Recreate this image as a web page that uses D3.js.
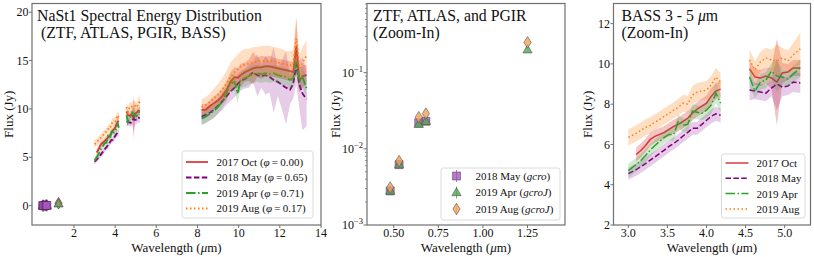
<!DOCTYPE html>
<html><head><meta charset="utf-8">
<script src="https://cdn.jsdelivr.net/npm/d3@7"></script>
<style>body{margin:0;background:#fff}svg{display:block}svg text{font-family:'Liberation Serif','DejaVu Serif','Times New Roman',Times,serif;fill:#111}</style>
</head><body><svg id="c" width="814" height="257" font-family="Liberation Serif, DejaVu Serif, serif"></svg>
<script>
// ---------------- DATA ----------------
const seriesNames = ["2017 Oct", "2018 May", "2019 Apr", "2019 Aug"];
const phases = ["0.00", "0.65", "0.71", "0.17"];

// BASS wavelength grids (micron)
const wl1 = [3.00,3.10,3.16,3.22,3.28,3.34,3.40,3.46,3.52,3.58,3.64,3.70,3.76,3.82,3.88,3.94,4.00,4.06,4.12,4.18];
const wl2 = [4.55,4.62,4.69,4.76,4.83,4.90,4.97,5.04,5.11,5.20];
const wl3 = [8.2,8.4,8.6,8.8,9.0,9.2,9.4,9.6,9.8,9.95,10.1,10.3,10.5,10.7,10.9,11.1,11.3,11.5,11.7,11.9,12.1,12.3,12.5,12.65,12.8,12.95,13.1,13.3];

// 2017 Oct flux (Jy) and uncertainty per segment
const octFlux = [
  [null,5.5,5.7,5.95,6.25,6.4,6.5,6.6,6.75,6.9,7.0,7.15,7.3,7.55,7.75,7.9,8.05,8.4,8.65,8.75],
  [9.75,9.35,9.3,9.4,9.3,9.1,9.55,9.6,9.8,9.8],
  [9.9,9.9,10.3,10.6,10.9,11.3,11.9,12.8,13.3,13.2,13.5,13.8,14.0,14.2,14.3,14.3,14.4,14.4,14.3,14.2,14.1,14.0,13.9,13.8,16.5,12.9,13.4,13.5]
];
const octErr = [
  [null,0.35,0.35,0.33,0.33,0.32,0.32,0.32,0.33,0.33,0.34,0.35,0.35,0.36,0.36,0.37,0.38,0.4,0.4,0.4],
  [0.45,0.4,0.4,0.4,0.5,2.15,0.5,0.4,0.4,0.4],
  [0.6,0.6,0.6,0.7,0.7,0.8,0.9,1.0,1.0,1.0,1.2,1.0,1.1,1.7,1.0,1.2,1.0,1.1,1.0,1.0,1.0,1.0,1.0,1.0,2.9,1.2,1.2,1.0]
];
// 2018 May
const mayFlux = [
  [4.55,4.75,4.9,5.05,5.22,5.38,5.55,5.72,5.9,6.05,6.22,6.42,6.6,6.8,6.8,7.0,7.2,7.4,7.52,7.45],
  [8.7,8.65,8.6,8.55,8.8,9.0,8.85,8.9,9.1,9.05],
  [9.2,9.4,9.6,9.9,10.3,10.8,11.3,11.8,12.2,12.6,12.9,13.1,13.4,13.8,13.5,13.4,13.5,13.3,13.0,12.8,12.5,12.2,12.0,12.6,14.6,12.5,11.6,11.0]
];
const mayErr = [
  [0.3,0.3,0.3,0.3,0.3,0.3,0.3,0.3,0.3,0.3,0.3,0.3,0.32,0.32,0.32,0.33,0.33,0.35,0.35,0.35],
  [0.5,0.4,0.4,0.4,0.4,1.3,0.45,0.45,0.5,0.5],
  [0.8,0.8,0.8,0.8,0.8,0.9,0.9,1.0,1.0,1.0,1.0,1.0,1.2,1.0,2.2,1.2,2.0,1.6,3.4,1.5,2.5,3.8,1.5,1.5,2.0,2.5,3.8,2.8]
];
// 2019 Apr
const aprFlux = [
  [4.7,5.0,5.2,5.45,5.72,5.95,6.15,6.35,6.5,6.5,7.15,6.95,7.0,7.65,7.6,7.55,7.7,7.95,8.55,8.05],
  [9.35,8.65,9.1,9.2,9.65,9.4,9.35,9.25,9.5,9.8],
  [9.0,9.2,9.5,9.8,10.2,10.8,11.6,12.6,12.8,11.6,13.0,13.2,13.4,13.6,13.7,13.6,13.7,13.6,13.7,13.5,13.4,13.3,13.0,13.2,14.9,12.8,13.3,12.1]
];
const aprErr = [
  [0.35,0.33,0.32,0.32,0.3,0.3,0.3,0.3,0.3,0.32,0.33,0.33,0.33,0.35,0.35,0.35,0.38,0.42,0.5,0.45],
  [0.5,0.35,0.4,0.4,0.4,0.8,0.4,0.4,0.4,0.45],
  [0.7,0.7,0.7,0.7,0.7,0.7,0.8,0.8,0.9,1.0,0.8,0.9,0.9,0.9,0.9,0.9,0.9,0.9,0.9,0.9,0.9,0.9,0.9,0.9,1.2,0.9,1.0,1.0]
];
// 2019 Aug
const augFlux = [
  [6.35,6.55,6.7,6.85,6.95,7.1,7.25,7.4,7.55,7.7,7.85,8.05,8.0,8.45,8.6,8.65,8.7,8.95,9.35,9.1],
  [10.2,9.7,10.1,10.3,10.2,10.15,10.3,10.15,10.45,10.75],
  [10.2,10.4,10.7,11.1,11.5,12.0,12.6,13.3,13.8,14.1,14.4,14.6,14.7,14.8,14.9,15.0,14.9,15.0,14.9,14.8,14.7,14.6,14.5,14.6,17.3,14.2,14.8,15.5]
];
const augErr = [
  [0.4,0.4,0.4,0.4,0.4,0.4,0.4,0.4,0.4,0.4,0.42,0.42,0.42,0.45,0.45,0.45,0.45,0.45,0.45,0.45],
  [0.5,0.45,0.5,0.5,0.5,0.8,0.5,0.5,0.6,0.8],
  [0.8,0.8,0.9,1.0,1.1,1.2,1.3,1.5,1.5,1.5,1.6,1.6,1.5,1.6,1.5,1.5,1.6,1.5,1.5,1.5,1.5,1.4,1.5,1.5,2.2,1.4,1.6,1.6]
];

// Photometry (ZTF g, ATLAS c, ZTF r, ATLAS o, PGIR J)
const photWl = [0.48, 0.53, 0.64, 0.68, 1.25];
const photMay = [0.0028, 0.0062, 0.022, 0.023, null];
const photApr = [0.0028, 0.0062, 0.021, 0.023, 0.20];
const photAug = [0.0031, 0.0069, 0.026, 0.029, 0.25];
const photLabels = ["2018 May", "2019 Apr", "2019 Aug"];
const photBands = ["gcro", "gcroJ", "gcroJ"];

// tick values
const t1x = [2,4,6,8,10,12,14], t1y = [0,5,10,15,20];
const t2x = [0.50,0.75,1.00,1.25], t2y = [-3,-2,-1];
const t3x = [3.0,3.5,4.0,4.5,5.0], t3y = [2,4,6,8,10,12];

// ---------------- STYLE ----------------
const FONT = "Liberation Serif, DejaVu Serif, Times New Roman, serif";
const colors = ["#d62728", "#800080", "#2ca02c", "#ff7f0e"];
const dashes = [null, "5.5,2.4", "9.6,2.4,1.5,2.4", "1.5,2.5"];
const fillOp = [0.28, 0.2, 0.22, 0.25];
const frameCol = "#707070";
const specFlux = [octFlux, mayFlux, aprFlux, augFlux];
const specErr = [octErr, mayErr, aprErr, augErr];
const wls = [wl1, wl2, wl3];

const svg = d3.select("#c");
const defs = svg.append("defs");

const TOP = 3.5, BOT = 225;
const P1 = {x: d3.scaleLinear().domain([-0.04, 14]).range([32, 321]),
            y: d3.scaleLinear().domain([-2, 20.9]).range([BOT, TOP]), id: "p1"};
const P2 = {x: d3.scaleLinear().domain([0.35, 1.46]).range([367, 565]),
            y: d3.scaleLog().domain([1e-3, 0.81]).range([BOT, TOP]), id: "p2"};
const P3 = {x: d3.scaleLinear().domain([2.81, 5.33]).range([613.5, 810.5]),
            y: d3.scaleLinear().domain([2, 13]).range([BOT, TOP]), id: "p3"};

function txt(g) { return g.append("text").attr("font-family", FONT).attr("fill", "#111"); }

function panel(P) {
  const [x0, x1] = P.x.range();
  defs.append("clipPath").attr("id", "clip" + P.id)
    .append("rect").attr("x", x0).attr("y", TOP).attr("width", x1 - x0).attr("height", BOT - TOP);
  const g = svg.append("g");
  P.g = g;
  P.plot = g.append("g").attr("clip-path", `url(#clip${P.id})`);
  return g;
}
[P1, P2, P3].forEach(panel);

function drawFrame(P) {
  const [x0, x1] = P.x.range();
  P.g.append("rect").attr("x", x0).attr("y", TOP).attr("width", x1 - x0).attr("height", BOT - TOP)
    .attr("fill", "none").attr("stroke", frameCol).attr("stroke-width", 1.2);
}

function xTicks(P, vals, fmt) {
  vals.forEach(v => {
    const xx = P.x(v);
    P.g.append("line").attr("x1", xx).attr("x2", xx).attr("y1", BOT).attr("y2", BOT + 3)
      .attr("stroke", frameCol).attr("stroke-width", 1);
    txt(P.g).attr("x", xx).attr("y", 236.8).attr("text-anchor", "middle")
      .attr("font-size", 12).text(fmt(v));
  });
}
function yTicks(P, vals, fmt) {
  const x0 = P.x.range()[0];
  vals.forEach(v => {
    const yy = P.y(v);
    P.g.append("line").attr("x1", x0 - 3).attr("x2", x0).attr("y1", yy).attr("y2", yy)
      .attr("stroke", frameCol).attr("stroke-width", 1);
    txt(P.g).attr("x", x0 - 3.5).attr("y", yy + 4.2).attr("text-anchor", "end")
      .attr("font-size", 12).text(fmt(v));
  });
}
function labels(P, ylx) {
  const [x0, x1] = P.x.range();
  const t = txt(P.g).attr("x", (x0 + x1) / 2).attr("y", 251.5).attr("text-anchor", "middle")
    .attr("font-size", 13);
  t.append("tspan").text("Wavelength (");
  t.append("tspan").attr("font-style", "italic").text("μ");
  t.append("tspan").text("m)");
  txt(P.g).attr("transform", `translate(${ylx},${(TOP + BOT) / 2}) rotate(-90)`)
    .attr("text-anchor", "middle").attr("font-size", 13).text("Flux (Jy)");
}
function title(P, x, l1, l2) {
  const t1 = txt(P.g).attr("x", x).attr("y", 20.5).attr("font-size", 15.8);
  l1(t1);
  txt(P.g).attr("x", x).attr("y", 38.3).attr("font-size", 15.8)
    .style("white-space", "pre").text(l2);
}

// spectra
function drawSpectra(P, segs, lw) {
  for (let s = 0; s < 4; s++) {
    segs.forEach(k => {
      const pts = wls[k].map((w, i) => ({w, f: specFlux[s][k][i], e: specErr[s][k][i]}));
      const area = d3.area().defined(d => d.f != null)
        .x(d => P.x(d.w)).y0(d => P.y(d.f - d.e)).y1(d => P.y(d.f + d.e));
      P.plot.append("path").attr("d", area(pts)).attr("fill", colors[s]).attr("fill-opacity", fillOp[s]);
    });
    segs.forEach(k => {
      const pts = wls[k].map((w, i) => ({w, f: specFlux[s][k][i]}));
      const line = d3.line().defined(d => d.f != null).x(d => P.x(d.w)).y(d => P.y(d.f));
      P.plot.append("path").attr("d", line(pts)).attr("fill", "none")
        .attr("stroke", colors[s]).attr("stroke-width", lw).attr("stroke-opacity", s === 0 ? 0.9 : 1)
        .attr("stroke-dasharray", dashes[s]);
    });
  }
}

// markers
const mStyle = [
  {fill: "#a855c0", sym: "square"},
  {fill: "#4fa84f", sym: "triangle"},
  {fill: "#f2a15a", sym: "diamond"}
];
function markerPath(sym) {
  if (sym === "square") return "M-4,-4H4V4H-4Z";
  if (sym === "triangle") return "M0,-5L4.6,3.2H-4.6Z";
  return "M0,-5.8L3.6,0L0,5.8L-3.6,0Z";
}
function drawMarker(g, cx, cy, m, edge) {
  g.append("path").attr("transform", `translate(${cx},${cy})`).attr("d", markerPath(mStyle[m].sym))
    .attr("fill", mStyle[m].fill).attr("fill-opacity", 0.8)
    .attr("stroke", edge || "#555").attr("stroke-width", 0.6);
}
function drawPhot(P, order, edge) {
  const sets = [photMay, photApr, photAug];
  order.forEach(m => {
    photWl.forEach((w, i) => {
      const v = sets[m][i];
      if (v == null) return;
      drawMarker(P.plot, P.x(w), P.y(v), m, edge);
    });
  });
}

// ---------- Panel 1 ----------
drawSpectra(P1, [0, 1, 2], 1.8);
drawPhot(P1, [2, 1, 0], "#4a2050");
drawFrame(P1);
xTicks(P1, t1x, d => d);
yTicks(P1, t1y, d => d);
labels(P1, 13);
title(P1, 37, t => t.text("NaSt1 Spectral Energy Distribution"), "\u00a0(ZTF, ATLAS, PGIR, BASS)");

// ---------- Panel 2 ----------
drawPhot(P2, [0, 1, 2]);
drawFrame(P2);
xTicks(P2, t2x, d3.format(".2f"));
{
  const x0 = P2.x.range()[0];
  [-3, -2, -1].forEach(e => {
    for (let m = 2; m <= 9; m++) {
      const v = m * Math.pow(10, e);
      if (v > P2.y.domain()[1]) continue;
      const yy = P2.y(v);
      P2.g.append("line").attr("x1", x0 - 2).attr("x2", x0).attr("y1", yy).attr("y2", yy)
        .attr("stroke", frameCol).attr("stroke-width", 0.8);
    }
  });
  t2y.forEach(e => {
    const yy = P2.y(Math.pow(10, e));
    P2.g.append("line").attr("x1", x0 - 3.5).attr("x2", x0).attr("y1", yy).attr("y2", yy)
      .attr("stroke", frameCol).attr("stroke-width", 1);
    const t = txt(P2.g).attr("x", x0 - 4).attr("y", yy + 4.2).attr("text-anchor", "end").attr("font-size", 12);
    t.append("tspan").text("10");
    t.append("tspan").attr("font-size", 8.5).attr("dy", -5).text("−" + Math.abs(e));
  });
}
labels(P2, 340);
title(P2, 373, t => t.text("ZTF, ATLAS, and PGIR"), "(Zoom-In)");

// ---------- Panel 3 ----------
drawSpectra(P3, [0, 1], 1.5);
drawFrame(P3);
xTicks(P3, t3x, d3.format(".1f"));
yTicks(P3, t3y, d => d);
labels(P3, 592);
title(P3, 621.5, t => {
  t.append("tspan").text("BASS 3 - 5 ");
  t.append("tspan").attr("font-style", "italic").text("μ");
  t.append("tspan").text("m");
}, "(Zoom-In)");

// ---------- Legends ----------
function legendBox(g, x, y, w, h) {
  g.append("rect").attr("x", x).attr("y", y).attr("width", w).attr("height", h).attr("rx", 2.5)
    .attr("fill", "#fff").attr("fill-opacity", 0.85).attr("stroke", "#d0d0d0").attr("stroke-width", 0.8);
}
legendBox(P1.g, 182, 151, 131, 67);
[162, 177.5, 193, 208.5].forEach((yy, s) => {
  P1.g.append("line").attr("x1", 186).attr("x2", 208).attr("y1", yy).attr("y2", yy)
    .attr("stroke", colors[s]).attr("stroke-width", 1.8).attr("stroke-dasharray", dashes[s])
    .attr("stroke-opacity", s === 0 ? 0.9 : 1);
  const t = txt(P1.g).attr("x", 216.5).attr("y", yy + 3.9).attr("font-size", 11);
  t.append("tspan").text(seriesNames[s] + " (");
  t.append("tspan").attr("font-style", "italic").text("φ");
  t.append("tspan").text("\u2009=\u2009" + phases[s] + ")");
});
legendBox(P2.g, 441, 168, 119, 52);
[176, 192.5, 209].forEach((yy, m) => {
  P2.g.append("line").attr("x1", 456.5).attr("x2", 456.5).attr("y1", yy - 6).attr("y2", yy + 6)
    .attr("stroke", mStyle[m].fill).attr("stroke-width", 0.8);
  drawMarker(P2.g, 456.5, yy, m);
  const t = txt(P2.g).attr("x", 475.5).attr("y", yy + 3.9).attr("font-size", 11);
  t.append("tspan").text(photLabels[m] + " (");
  t.append("tspan").attr("font-style", "italic").text(photBands[m]);
  t.append("tspan").text(")");
});
legendBox(P3.g, 721.5, 154, 83.5, 64);
[163, 178.3, 193.6, 208.9].forEach((yy, s) => {
  P3.g.append("line").attr("x1", 725.5).attr("x2", 748.5).attr("y1", yy).attr("y2", yy)
    .attr("stroke", colors[s]).attr("stroke-width", 1.5).attr("stroke-dasharray", dashes[s])
    .attr("stroke-opacity", s === 0 ? 0.9 : 1);
  txt(P3.g).attr("x", 756.5).attr("y", yy + 3.9).attr("font-size", 11).text(seriesNames[s]);
});
</script></body></html>
